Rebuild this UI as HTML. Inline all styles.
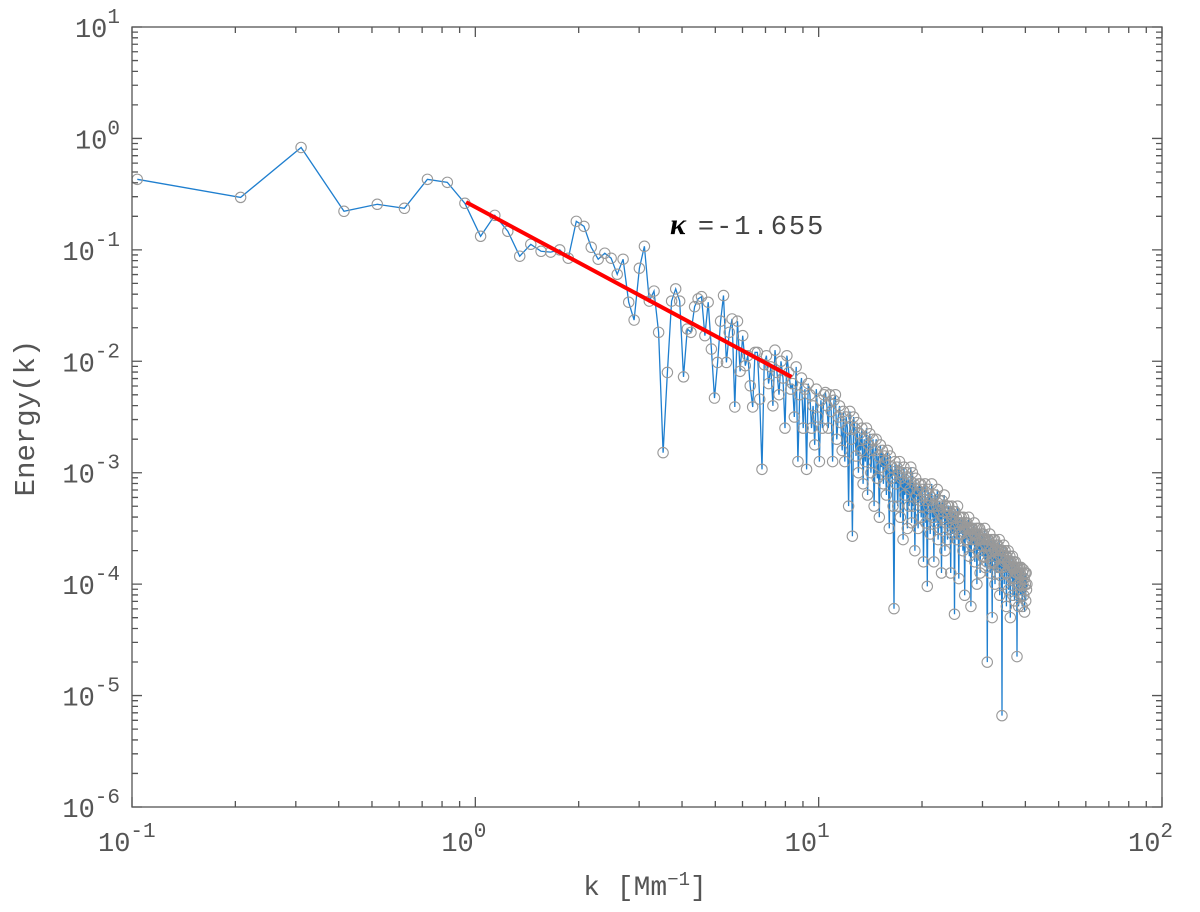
<!DOCTYPE html>
<html><head><meta charset="utf-8"><style>
html,body{margin:0;padding:0;background:#fff;}
svg{display:block;}
text{font-family:"Liberation Mono","DejaVu Sans Mono",monospace;fill:#555;}
</style></head><body>
<svg id="chart" width="1200" height="912" viewBox="0 0 1200 912" xmlns="http://www.w3.org/2000/svg">
<rect x="0" y="0" width="1200" height="912" fill="#fff"/>
<g id="series"></g>
<g id="fit"></g>
<g id="axes"></g>
<text x="670" y="234" font-size="27"><tspan font-family="'Liberation Serif',serif" font-weight="bold" font-style="italic" font-size="30" fill="#000">κ</tspan><tspan dx="12" fill="#444" letter-spacing="2">=-1.655</tspan></text>
<text x="645" y="895" font-size="28" text-anchor="middle">k  [Mm<tspan dy="-10" font-size="19">−1</tspan><tspan dy="10">]</tspan></text>
<text transform="translate(34,418) rotate(-90)" font-size="29" text-anchor="middle">Energy(k)</text>
</svg>
<script>
// data
const dk = 0.1036;
const xTickExps = [-1, 0, 1, 2];
const yTickExps = [-6, -5, -4, -3, -2, -1, 0, 1];
const fitSlope = -1.655;
const fitLogAmp = -0.616;
const fitRange = [0.94, 8.34];
const log10Energy = [
-0.367,-0.529,-0.081,-0.654,-0.591,-0.627,-0.367,-0.394,-0.582,
-0.878,-0.69,-0.833,-1.057,-0.95,-1.013,-1.02,-1.0,-1.075,
-0.744,-0.789,-0.977,-1.084,-1.03,-1.075,-1.219,-1.084,-1.47,-1.63,-1.165,
-0.968,-1.46,-1.37,-1.74,-2.82,-2.10,-1.46,-1.35,-1.46,-2.14,
-1.71,-1.74,-1.51,-1.44,-1.42,-1.77,-1.47,-1.89,-2.33,-2.01,
-1.64,-1.41,-2.01,-1.74,-1.62,-2.41,-1.64,-2.09,-1.77,-2.04,
-1.95,-2.22,-2.41,-1.92,-1.92,-2.34,-2.97,-2.03,
-1.95,-2.2,-2.05,-2.4,-1.9,-2.1,-2.3,-2.0,-2.15,-2.6,-1.95,-2.1,-2.25,
-2.2,-2.5,-2.05,-2.9,-2.3,-2.15,-2.6,-2.25,-2.97,-2.2,
-2.3,-2.6,-2.4,-2.75,-2.25,-2.5,-2.9,-2.35,-2.6,-2.3,
-2.28,-2.4,-2.6,-2.3,-2.45,-2.9,-2.35,-2.3,-2.7,-2.5,
-2.4,-2.55,-2.8,-2.45,-2.9,-2.5,-2.6,-3.3,-2.45,-2.7,
-3.57,-2.5,-2.6,-2.85,-2.55,-3.0,-2.65,-2.8,-2.6,-3.1,
-2.7,-2.9,-2.6,-3.2,-2.75,-2.65,-3.0,-2.8,-2.7,-3.3,
-2.8,-2.7,-3.05,-2.85,-3.4,-2.75,-2.95,-2.8,-3.1,-2.85,
-2.9,-3.2,-2.8,-3.0,-3.5,-2.85,-3.05,-2.95,-3.3,-4.22,
-2.9,-3.1,-2.95,-3.3,-3.0,-2.9,-3.4,-3.05,-3.0,-3.6,
-2.95,-3.2,-3.1,-3.0,-3.5,-3.05,-3.3,-3.15,-2.95,-3.45,
-3.0,-3.3,-3.1,-3.7,-3.05,-3.2,-3.15,-3.5,-3.1,-3.25,
-3.1,-3.4,-3.15,-3.3,-3.8,-3.2,-3.1,-3.45,-3.25,-4.02,
-3.15,-3.3,-3.2,-3.55,-3.25,-3.1,-3.4,-3.3,-3.8,-3.2,
-3.2,-3.45,-3.3,-3.15,-3.6,-3.35,-3.25,-3.5,-3.3,-3.9,
-3.25,-3.4,-3.35,-3.2,-3.7,-3.3,-3.45,-3.35,-3.6,-3.3,
-3.3,-3.5,-3.35,-3.9,-3.4,-3.3,-3.55,-3.45,-3.35,-4.27,
-3.35,-3.5,-3.4,-3.6,-3.3,-3.45,-3.95,-3.4,-3.55,-3.45,
-3.4,-3.55,-3.45,-3.7,-3.4,-3.5,-4.1,-3.45,-3.6,-3.5,
-3.45,-3.6,-3.5,-3.4,-3.75,-3.5,-3.55,-4.2,-3.5,-3.6,
-3.5,-3.65,-3.55,-3.45,-3.8,-3.55,-3.6,-3.5,-4.0,-3.55,
-3.5,-3.7,-3.6,-3.5,-3.9,-3.6,-3.65,-3.55,-3.75,-3.6,
-3.55,-3.75,-3.6,-3.5,-3.85,-3.65,-3.6,-3.8,-4.7,-3.6,
-3.6,-3.75,-3.65,-3.55,-3.9,-3.7,-3.6,-3.8,-4.3,-3.65,
-3.6,-3.8,-3.7,-3.6,-4.0,-3.7,-3.75,-3.65,-3.9,-3.7,
-3.65,-3.85,-3.7,-3.6,-4.1,-3.75,-3.7,-3.85,-3.7,-5.18,
-3.7,-3.85,-3.75,-3.65,-4.0,-3.8,-3.7,-3.9,-3.75,-4.2,
-3.75,-3.9,-3.8,-3.7,-4.05,-3.8,-3.85,-3.75,-4.3,-3.8,
-3.8,-3.95,-3.85,-3.75,-4.1,-3.85,-3.8,-3.95,-4.15,-3.85,
-3.8,-3.95,-3.9,-3.85,-4.65,-3.9,-3.85,-4.0,-4.2,-3.9,
-3.85,-4.0,-3.9,-4.1,-3.85,-4.05,-3.95,-4.2,-3.9,-4.0,
-3.87,-4.1,-3.95,-4.25,-3.9,-4.0,-4.15,-3.9,-4.05,-4.0
];
const kValues = log10Energy.map((_, i) => (i + 1) * dk);

const NS = "http://www.w3.org/2000/svg";
const L = 132, R = 1162, T = 27, B = 807;
const xMin = -1, xMax = 2, yMin = -6, yMax = 1;
function xScale(k){ return L + (Math.log10(k) - xMin) / (xMax - xMin) * (R - L); }
function yLog(le){ return B - (le - yMin) / (yMax - yMin) * (B - T); }
function mk(tag, attrs, parent){ const e = document.createElementNS(NS, tag); for (const a in attrs) e.setAttribute(a, attrs[a]); parent.appendChild(e); return e; }

const series = document.getElementById('series');
let d = '';
kValues.forEach((k, i) => { d += (i ? 'L' : 'M') + xScale(k).toFixed(1) + ' ' + yLog(log10Energy[i]).toFixed(1); });
const line = mk('path', {d: d, fill: 'none', stroke: '#1f7fcf', 'stroke-width': 1.3}, series);


kValues.forEach((k, i) => {
  const c = mk('circle', {cx: xScale(k), cy: yLog(log10Energy[i]), r: 5.2, fill: 'none', stroke: '#999', 'stroke-width': 1.1}, series);
  
  
});

const fit = document.getElementById('fit');
const fl = mk('line', {
  x1: xScale(fitRange[0]), y1: yLog(fitLogAmp + fitSlope * Math.log10(fitRange[0])),
  x2: xScale(fitRange[1]), y2: yLog(fitLogAmp + fitSlope * Math.log10(fitRange[1])),
  stroke: '#ff0000', 'stroke-width': 4}, fit);



const axes = document.getElementById('axes');
const box = mk('rect', {x: L, y: T, width: R - L, height: B - T, fill: 'none', stroke: '#555', 'stroke-width': 1.3}, axes);


let td = '';
for (let e = xMin; e <= xMax; e++) {
  for (let m = 1; m <= 9; m++) {
    if (e === xMax && m > 1) break;
    const x = xScale(m * Math.pow(10, e)); const len = m === 1 ? 10 : 6;
    td += `M${x} ${B}V${B-len}M${x} ${T}V${T+len}`;
  }
}
for (let e = yMin; e <= yMax; e++) {
  for (let m = 1; m <= 9; m++) {
    if (e === yMax && m > 1) break;
    const y = yLog(e + Math.log10(m)); const len = m === 1 ? 10 : 6;
    td += `M${L} ${y}H${L+len}M${R} ${y}H${R-len}`;
  }
}
const ticks = mk('path', {d: td, stroke: '#555', 'stroke-width': 1.3, fill: 'none'}, axes);



xTickExps.forEach(e => {
  const x = xScale(Math.pow(10, e));
  const t = mk('text', {x: x - 34, y: 851, 'font-size': 27}, axes);
  t.innerHTML = '10<tspan dy="-14" font-size="21">' + e + '</tspan>';
  
  
});
yTickExps.forEach(e => {
  const y = yLog(e);
  const t = mk('text', {x: 120, y: y + 10, 'font-size': 27, 'text-anchor': 'end'}, axes);
  t.innerHTML = '10<tspan dy="-14" font-size="21">' + e + '</tspan>';
  
  
});
</script>
</body></html>
